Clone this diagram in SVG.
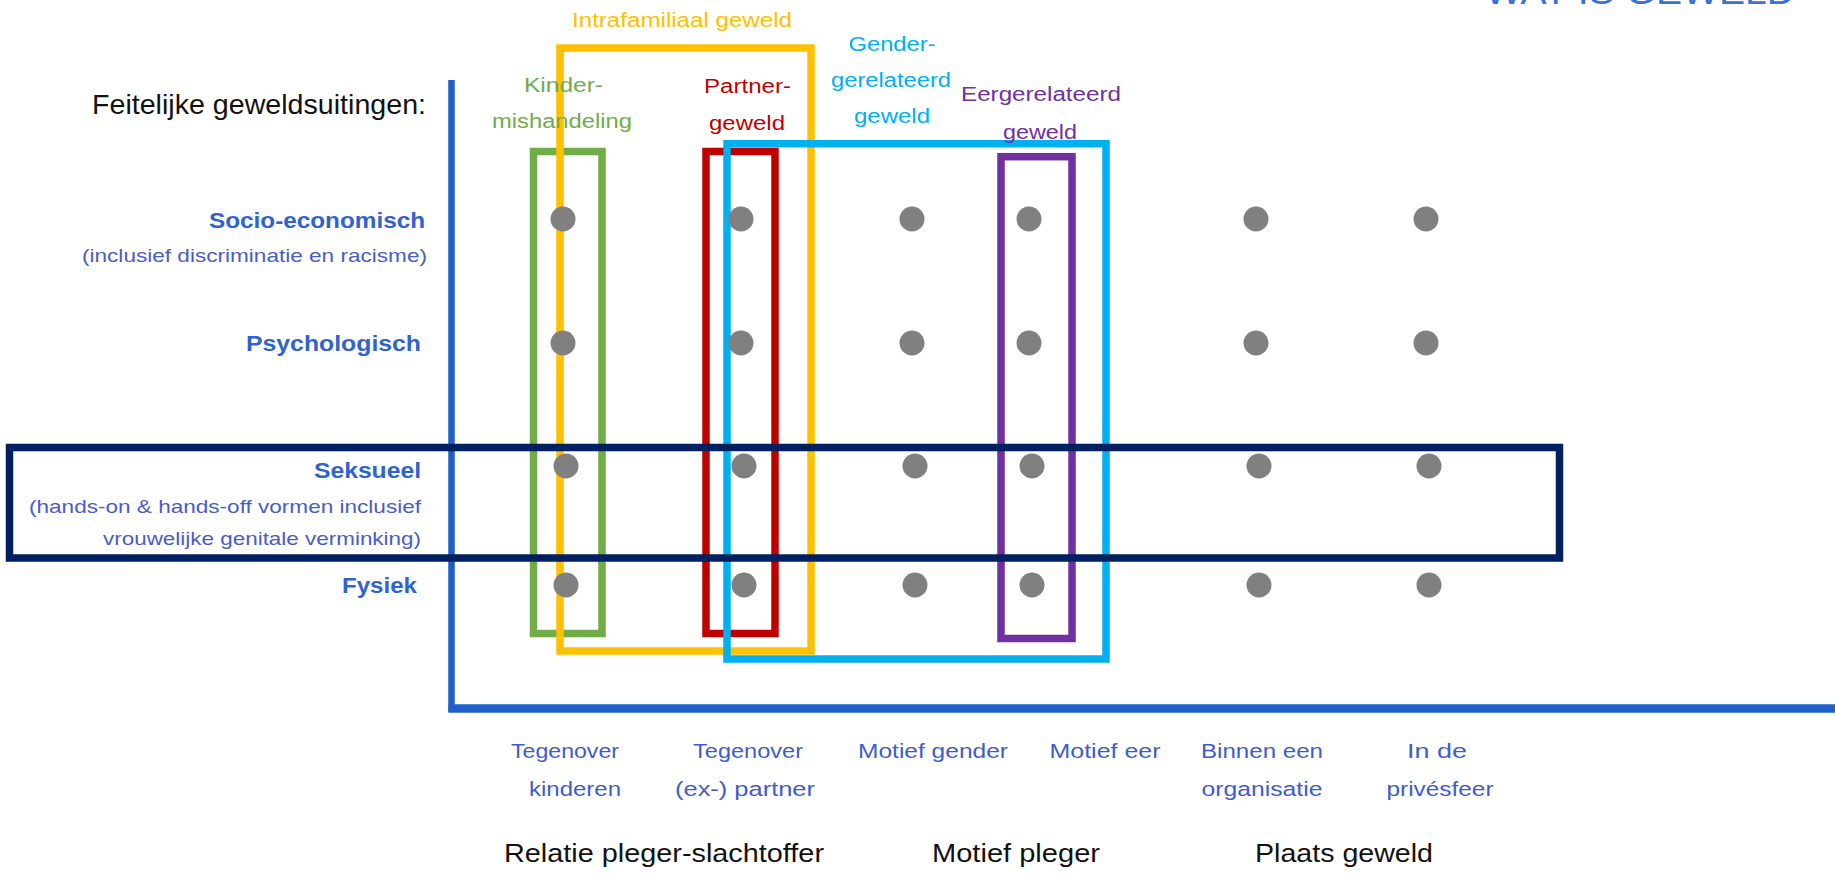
<svg xmlns="http://www.w3.org/2000/svg" width="1835" height="880" viewBox="0 0 1835 880">
<style>
text{font-family:"Liberation Sans",Arial,sans-serif}
.lbl{font-size:22.5px;font-weight:bold;fill:#2E63D0;text-anchor:end}
.sub{font-size:19px;fill:#4A5CC8;text-anchor:end}
.top{font-size:20px;text-anchor:middle}
.bot{font-size:20.5px;fill:#3F5CCB;text-anchor:middle}
.cat{font-size:26px;fill:#111;text-anchor:middle}
.box{fill:none;stroke-width:7.5}
.dot{fill:#808080}
.axis{stroke:#1F5FC9;fill:none}
</style>
<rect width="1835" height="880" fill="#fff"/>
<text x="1485" y="4" font-size="36" fill="#3A70D8" textLength="310" lengthAdjust="spacingAndGlyphs">WAT IS GEWELD</text>

<g id="axes">
<line class="axis" x1="451.5" y1="80" x2="451.5" y2="712" stroke-width="6.5"/>
<line class="axis" x1="448.5" y1="708.5" x2="1835" y2="708.5" stroke-width="8.5"/>
</g>

<g id="left-labels">
<text x="426" y="114" font-size="28" fill="#111" text-anchor="end" textLength="334" lengthAdjust="spacingAndGlyphs">Feitelijke geweldsuitingen:</text>
<g id="socio"><text class="lbl" x="425" y="228" textLength="216" lengthAdjust="spacingAndGlyphs">Socio-economisch</text>
<text class="sub" x="427" y="262" textLength="345" lengthAdjust="spacingAndGlyphs">(inclusief discriminatie en racisme)</text></g>
<g id="psych"><text class="lbl" x="421" y="351" textLength="175" lengthAdjust="spacingAndGlyphs">Psychologisch</text></g>
<g id="seks"><text class="lbl" x="421" y="478" textLength="107" lengthAdjust="spacingAndGlyphs">Seksueel</text>
<text class="sub" x="421" y="513" textLength="392" lengthAdjust="spacingAndGlyphs">(hands-on &amp; hands-off vormen inclusief</text>
<text class="sub" x="421" y="545" textLength="318" lengthAdjust="spacingAndGlyphs">vrouwelijke genitale verminking)</text></g>
<g id="fysiek"><text class="lbl" x="417" y="593" textLength="75" lengthAdjust="spacingAndGlyphs">Fysiek</text></g>
</g>

<g id="connectors">
<rect id="kinder-box" class="box" x="533.5" y="151.5" width="68.5" height="482" stroke="#70AD47"/>
<rect id="partner-box" class="box" x="706" y="151.5" width="69" height="482" stroke="#C00000"/>
<rect id="intrafam-box" class="box" x="560" y="48" width="251" height="603" stroke="#FFC000"/>
<rect id="gender-box" class="box" x="727" y="143.7" width="379" height="515.3" stroke="#00B0F0"/>
<rect id="eer-box" class="box" x="1001" y="156.7" width="71" height="481.8" stroke="#7030A0"/>
<rect id="seks-box" class="box" x="9.5" y="447.5" width="1550" height="110.5" stroke="#002060"/>
</g>

<g id="group-labels">
<g id="lbl-intrafam"><text class="top" x="682" y="27" fill="#FFC000" textLength="220" lengthAdjust="spacingAndGlyphs">Intrafamiliaal  geweld</text></g>
<g id="lbl-kinder"><text class="top" x="563.5" y="92" fill="#70AD47" textLength="79" lengthAdjust="spacingAndGlyphs">Kinder-</text>
<text class="top" x="562" y="128" fill="#70AD47" textLength="140" lengthAdjust="spacingAndGlyphs">mishandeling</text></g>
<g id="lbl-partner"><text class="top" x="747.5" y="93" fill="#C00000" textLength="87" lengthAdjust="spacingAndGlyphs">Partner-</text>
<text class="top" x="747" y="130" fill="#C00000" textLength="76" lengthAdjust="spacingAndGlyphs">geweld</text></g>
<g id="lbl-gender"><text class="top" x="892" y="51" fill="#00B0F0" textLength="87" lengthAdjust="spacingAndGlyphs">Gender-</text>
<text class="top" x="891" y="87" fill="#00B0F0" textLength="120" lengthAdjust="spacingAndGlyphs">gerelateerd</text>
<text class="top" x="892" y="123" fill="#00B0F0" textLength="76" lengthAdjust="spacingAndGlyphs">geweld</text></g>
<g id="lbl-eer"><text class="top" x="1041" y="101" fill="#7030A0" textLength="160" lengthAdjust="spacingAndGlyphs">Eergerelateerd</text>
<text class="top" x="1040" y="139" fill="#7030A0" textLength="74" lengthAdjust="spacingAndGlyphs">geweld</text></g>
</g>

<g id="dots">
<circle class="dot" cx="563" cy="219" r="12.5"/><circle class="dot" cx="741" cy="219" r="12.5"/><circle class="dot" cx="912" cy="219" r="12.5"/><circle class="dot" cx="1029" cy="219" r="12.5"/><circle class="dot" cx="1256" cy="219" r="12.5"/><circle class="dot" cx="1426" cy="219" r="12.5"/>
<circle class="dot" cx="563" cy="343" r="12.5"/><circle class="dot" cx="741" cy="343" r="12.5"/><circle class="dot" cx="912" cy="343" r="12.5"/><circle class="dot" cx="1029" cy="343" r="12.5"/><circle class="dot" cx="1256" cy="343" r="12.5"/><circle class="dot" cx="1426" cy="343" r="12.5"/>
<circle class="dot" cx="566" cy="466" r="12.5"/><circle class="dot" cx="744" cy="466" r="12.5"/><circle class="dot" cx="915" cy="466" r="12.5"/><circle class="dot" cx="1032" cy="466" r="12.5"/><circle class="dot" cx="1259" cy="466" r="12.5"/><circle class="dot" cx="1429" cy="466" r="12.5"/>
<circle class="dot" cx="566" cy="585" r="12.5"/><circle class="dot" cx="744" cy="585" r="12.5"/><circle class="dot" cx="915" cy="585" r="12.5"/><circle class="dot" cx="1032" cy="585" r="12.5"/><circle class="dot" cx="1259" cy="585" r="12.5"/><circle class="dot" cx="1429" cy="585" r="12.5"/>
</g>

<g id="x-labels">
<g id="x-kinderen"><text class="bot" x="565" y="758" textLength="108" lengthAdjust="spacingAndGlyphs">Tegenover</text>
<text class="bot" x="575" y="796" textLength="92" lengthAdjust="spacingAndGlyphs">kinderen</text></g>
<g id="x-partner"><text class="bot" x="748" y="758" textLength="110" lengthAdjust="spacingAndGlyphs">Tegenover</text>
<text class="bot" x="745" y="796" textLength="140" lengthAdjust="spacingAndGlyphs">(ex-) partner</text></g>
<g id="x-gender"><text class="bot" x="933" y="758" textLength="150" lengthAdjust="spacingAndGlyphs">Motief gender</text></g>
<g id="x-eer"><text class="bot" x="1105" y="758" textLength="111" lengthAdjust="spacingAndGlyphs">Motief eer</text></g>
<g id="x-org"><text class="bot" x="1262" y="758" textLength="122" lengthAdjust="spacingAndGlyphs">Binnen een</text>
<text class="bot" x="1262" y="796" textLength="121" lengthAdjust="spacingAndGlyphs">organisatie</text></g>
<g id="x-prive"><text class="bot" x="1437" y="758" textLength="60" lengthAdjust="spacingAndGlyphs">In de</text>
<text class="bot" x="1440" y="796" textLength="107" lengthAdjust="spacingAndGlyphs">privésfeer</text></g>
</g>

<g id="categories">
<text class="cat" x="664" y="862" textLength="320" lengthAdjust="spacingAndGlyphs">Relatie pleger-slachtoffer</text>
<text class="cat" x="1016" y="862" textLength="168" lengthAdjust="spacingAndGlyphs">Motief pleger</text>
<text class="cat" x="1344" y="862" textLength="178" lengthAdjust="spacingAndGlyphs">Plaats geweld</text>
</g>
</svg>
